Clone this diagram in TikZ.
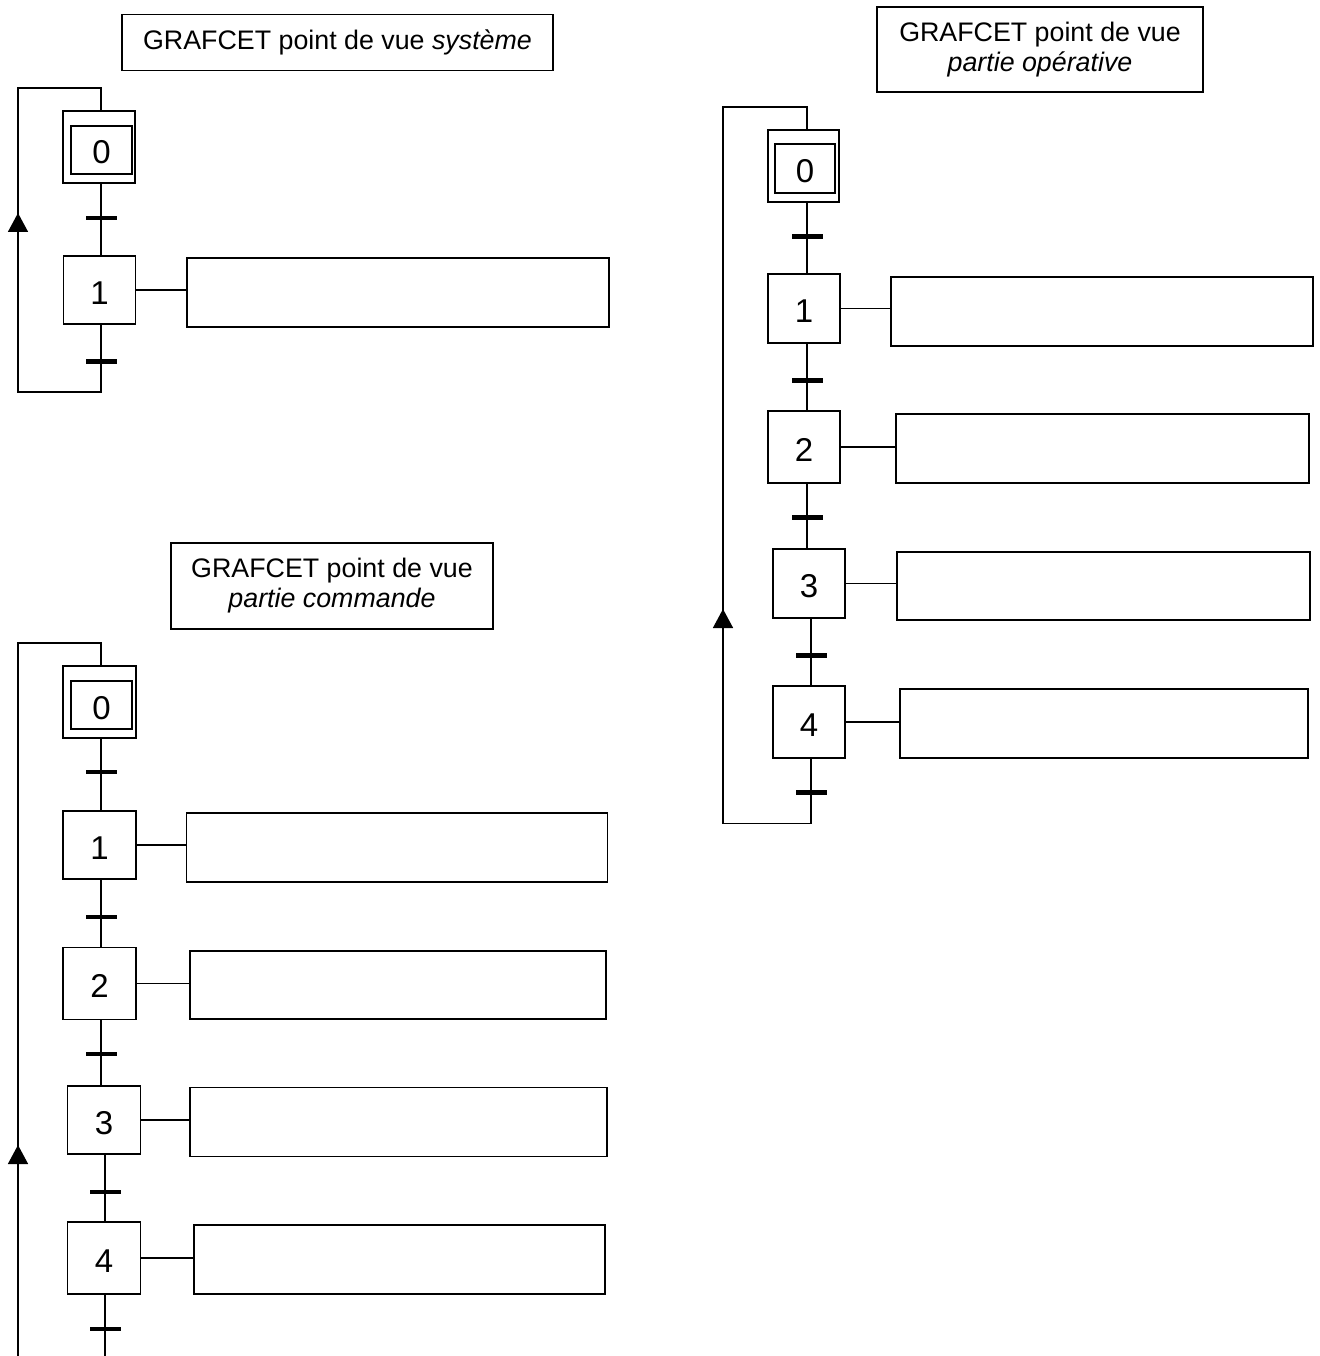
\documentclass[tikz,border=0pt]{standalone}
\usepackage{fontspec}
\setmainfont{Liberation Sans}
\usetikzlibrary{arrows.meta}
\begin{document}
\begin{tikzpicture}[x=1pt,y=-1pt,
  box/.style={draw, line width=1.7pt, rectangle, inner sep=0pt, outer sep=0pt},
  stepbox/.style={box, font=\fontsize{33}{33}\selectfont, text height=28pt, text depth=0pt},
  titlebox/.style={box, align=center, font=\fontsize{26.8}{30}\selectfont},
  actbox/.style={box},
  trbar/.style={fill=black, draw=none, rectangle, minimum width=31pt,
                minimum height=4.5pt, inner sep=0pt, outer sep=0pt},
  link/.style={line width=1.5pt},
  uparrow/.style={link, -{Triangle[width=20pt,length=19pt]}},
]
\useasboundingbox (0,0) rectangle (1319,1356);

% ---------------- GRAFCET "système" ----------------
\node[titlebox, minimum width=431pt, minimum height=56pt] (titleA) at (337.5,42.5)
  {GRAFCET point de vue \textit{système}};
\node[box, minimum width=72pt, minimum height=72pt] (a0) at (99,147) {};
\node[stepbox, minimum width=61pt, minimum height=48pt] (a0i) at (101.5,150) {0};
\node[trbar] (at0) at (101,218) {};
\node[stepbox, minimum width=72pt, minimum height=68pt] (a1) at (99.5,290) {1};
\node[actbox, minimum width=422pt, minimum height=69pt] (aa1) at (398,292.5) {};
\node[trbar] (at1) at (101,361.5) {};
\coordinate (aTR) at (101,88);
\coordinate (aTL) at (18,88);
\coordinate (aBL) at (18,392);
\coordinate (aBR) at (101,392);
\coordinate (aArr) at (18,213);

\draw[link] (a0.south -| at0) -- (a1.north -| at0);
\draw[link] (a1.east) -- (a1.east -| aa1.west);
\draw[link] (a1.south -| at1) -- (aBR) -- (aBL) -- (aTL) -- (aTR) -- (a0.north -| aTR);
\draw[uparrow] (aBL) -- (aArr);

% ---------------- GRAFCET "partie opérative" ----------------
\node[titlebox, minimum width=326pt, minimum height=85pt] (titleB) at (1040,49.5)
  {GRAFCET point de vue\\\textit{partie opérative}};
\node[box, minimum width=71pt, minimum height=72pt] (b0) at (803.5,166) {};
\node[stepbox, minimum width=60pt, minimum height=49pt] (b0i) at (805,168.5) {0};
\node[trbar] (bt0) at (807,236.5) {};
\node[stepbox, minimum width=72pt, minimum height=69pt] (b1) at (804,308.5) {1};
\node[actbox, minimum width=422pt, minimum height=69pt] (ba1) at (1102,311.5) {};
\node[trbar] (bt1) at (807,380.5) {};
\node[stepbox, minimum width=72pt, minimum height=72pt] (b2) at (804,447) {2};
\node[actbox, minimum width=413pt, minimum height=69pt] (ba2) at (1102.5,448.5) {};
\node[trbar] (bt2) at (807,517.5) {};
\node[stepbox, minimum width=72pt, minimum height=69pt] (b3) at (809,583.5) {3};
\node[actbox, minimum width=413pt, minimum height=68pt] (ba3) at (1103.5,586) {};
\node[trbar] (bt3) at (811,655.5) {};
\node[stepbox, minimum width=72pt, minimum height=72pt] (b4) at (809,722) {4};
\node[actbox, minimum width=408pt, minimum height=69pt] (ba4) at (1104,723.5) {};
\node[trbar] (bt4) at (811,792.5) {};
\coordinate (bTR) at (807,107);
\coordinate (bTL) at (723,107);
\coordinate (bBL) at (723,823.5);
\coordinate (bBR) at (811,823.5);
\coordinate (bArr) at (723,609);

\draw[link] (b0.south -| bt0) -- (b1.north -| bt0);
\draw[link] (b1.south -| bt1) -- (b2.north -| bt1);
\draw[link] (b2.south -| bt2) -- (b3.north -| bt2);
\draw[link] (b3.south -| bt3) -- (b4.north -| bt3);
\draw[link] (b1.east) -- (b1.east -| ba1.west);
\draw[link] (b2.east) -- (b2.east -| ba2.west);
\draw[link] (b3.east) -- (b3.east -| ba3.west);
\draw[link] (b4.east) -- (b4.east -| ba4.west);
\draw[link] (b4.south -| bt4) -- (bBR) -- (bBL) -- (bTL) -- (bTR) -- (b0.north -| bTR);
\draw[uparrow] (bBL) -- (bArr);

% ---------------- GRAFCET "partie commande" ----------------
\node[titlebox, minimum width=322pt, minimum height=86pt] (titleC) at (332,586)
  {GRAFCET point de vue\\\textit{partie commande}};
\node[box, minimum width=73pt, minimum height=72pt] (c0) at (99.5,702) {};
\node[stepbox, minimum width=61pt, minimum height=48pt] (c0i) at (101.5,705) {0};
\node[trbar] (ct0) at (101,772) {};
\node[stepbox, minimum width=73pt, minimum height=68pt] (c1) at (99.5,845) {1};
\node[actbox, minimum width=421pt, minimum height=69pt] (ca1) at (397,847.5) {};
\node[trbar] (ct1) at (101,917) {};
\node[stepbox, minimum width=73pt, minimum height=72pt] (c2) at (99.5,983.5) {2};
\node[actbox, minimum width=416pt, minimum height=68pt] (ca2) at (398,985) {};
\node[trbar] (ct2) at (101,1054) {};
\node[stepbox, minimum width=73pt, minimum height=68pt] (c3) at (104,1120) {3};
\node[actbox, minimum width=417pt, minimum height=69pt] (ca3) at (398.5,1122) {};
\node[trbar] (ct3) at (105,1192) {};
\node[stepbox, minimum width=73pt, minimum height=72pt] (c4) at (104,1258) {4};
\node[actbox, minimum width=411pt, minimum height=69pt] (ca4) at (399.5,1259.5) {};
\node[trbar] (ct4) at (105,1329) {};
\coordinate (cTR) at (101,643);
\coordinate (cTL) at (18,643);
\coordinate (cBL) at (18,1356);
\coordinate (cEnd) at (105,1356);
\coordinate (cArr) at (18,1145);

\draw[link] (c0.south -| ct0) -- (c1.north -| ct0);
\draw[link] (c1.south -| ct1) -- (c2.north -| ct1);
\draw[link] (c2.south -| ct2) -- (c3.north -| ct2);
\draw[link] (c3.south -| ct3) -- (c4.north -| ct3);
\draw[link] (c4.south -| ct4) -- (cEnd);
\draw[link] (c1.east) -- (c1.east -| ca1.west);
\draw[link] (c2.east) -- (c2.east -| ca2.west);
\draw[link] (c3.east) -- (c3.east -| ca3.west);
\draw[link] (c4.east) -- (c4.east -| ca4.west);
\draw[link] (cBL) -- (cTL) -- (cTR) -- (c0.north -| cTR);
\draw[uparrow] (cBL) -- (cArr);
\end{tikzpicture}
\end{document}
